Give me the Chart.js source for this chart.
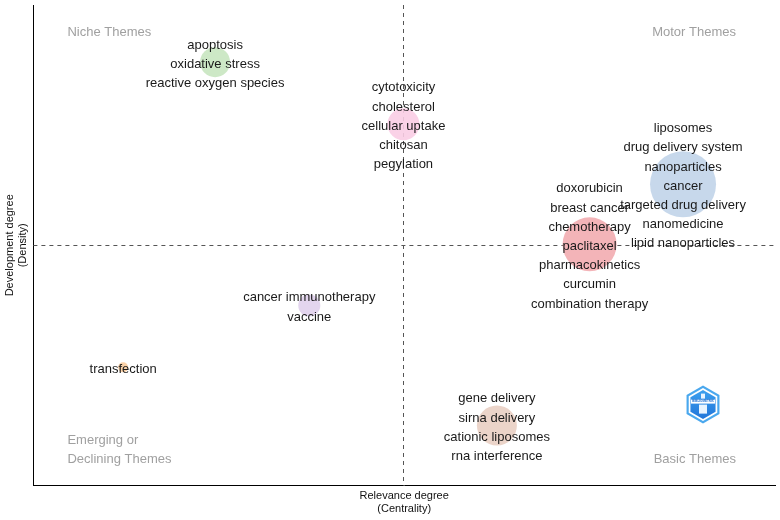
<!DOCTYPE html>
<html>
<head>
<meta charset="utf-8">
<script src="https://cdn.jsdelivr.net/npm/chart.js@4.4.1/dist/chart.umd.min.js"></script>
<style>
  html, body { margin: 0; padding: 0; background: #fff; }
  .wrap { width: 780px; height: 520px; position: relative; }
</style>
</head>
<body>
<div class="wrap"><canvas id="myChart"></canvas></div>
<script>
// cluster positions (centrality, density) and bubble size
const clusterX = [24.5, 49.9, 87.6, 75.0, 37.2, 12.1, 62.5];
const clusterY = [88.1, 75.2, 62.7, 50.2, 37.5, 24.6, 12.5];
const clusterSize = [15, 16, 33, 27, 11, 5, 20];
const clusterColors = [
  'rgba(200,230,192,0.9)',
  'rgba(250,205,228,0.9)',
  'rgba(196,214,234,0.95)',
  'rgba(242,176,180,0.95)',
  'rgba(224,208,236,0.9)',
  'rgba(250,205,160,0.9)',
  'rgba(234,210,198,0.95)'
];
const clusterWords = [
  ['apoptosis', 'oxidative stress', 'reactive oxygen species'],
  ['cytotoxicity', 'cholesterol', 'cellular uptake', 'chitosan', 'pegylation'],
  ['liposomes', 'drug delivery system', 'nanoparticles', 'cancer', 'targeted drug delivery', 'nanomedicine', 'lipid nanoparticles'],
  ['doxorubicin', 'breast cancer', 'chemotherapy', 'paclitaxel', 'pharmacokinetics', 'curcumin', 'combination therapy'],
  ['cancer immunotherapy', 'vaccine'],
  ['transfection'],
  ['gene delivery', 'sirna delivery', 'cationic liposomes', 'rna interference']
];
const meanX = 49.9;
const meanY = 50;

const FONT = '"Liberation Sans", Arial, sans-serif';

const mapPlugin = {
  id: 'mapPlugin',
  beforeDatasetsDraw(chart) {
    const c = chart.ctx;
    const a = chart.chartArea;
    const xs = chart.scales.x, ys = chart.scales.y;
    c.save();
    c.strokeStyle = '#555';
    c.lineWidth = 1;
    c.setLineDash([4, 4]);
    const px = Math.round(xs.getPixelForValue(meanX)) + 0.5;
    const py = Math.round(ys.getPixelForValue(meanY)) + 0.5;
    c.beginPath();
    c.moveTo(px, a.top); c.lineTo(px, a.bottom);
    c.moveTo(a.left, py); c.lineTo(a.right, py);
    c.stroke();
    c.setLineDash([]);

    // quadrant names
    c.fillStyle = '#a0a0a0';
    c.font = '13px ' + FONT;
    c.textBaseline = 'middle';
    c.textAlign = 'left';
    c.fillText('Niche Themes', a.left + 34, a.top + 27);
    c.fillText('Emerging or', a.left + 34, a.bottom - 45);
    c.fillText('Declining Themes', a.left + 34, a.bottom - 26);
    c.textAlign = 'right';
    c.fillText('Motor Themes', a.right - 39, a.top + 27);
    c.fillText('Basic Themes', a.right - 39, a.bottom - 26);
    c.restore();
  },
  afterDatasetsDraw(chart) {
    const c = chart.ctx;
    const a = chart.chartArea;
    const xs = chart.scales.x, ys = chart.scales.y;
    c.save();
    c.fillStyle = '#1a1a1a';
    c.font = '13px ' + FONT;
    c.textAlign = 'center';
    c.textBaseline = 'middle';
    const lh = 19.2;
    clusterWords.forEach((words, i) => {
      const cx = xs.getPixelForValue(clusterX[i]);
      const cy = ys.getPixelForValue(clusterY[i]);
      const n = words.length;
      words.forEach((w, j) => {
        c.fillText(w, cx, cy + (j - (n - 1) / 2) * lh + 2);
      });
    });

    // logo hexagon
    const lx = a.right - 72, ly = a.bottom - 81, r = 19;
    const hex = (rad) => {
      c.beginPath();
      for (let k = 0; k < 6; k++) {
        const ang = Math.PI / 2 + k * Math.PI / 3;
        const hx = lx + rad * Math.cos(ang), hy = ly - rad * Math.sin(ang);
        if (k === 0) c.moveTo(hx, hy); else c.lineTo(hx, hy);
      }
      c.closePath();
    };
    hex(r); c.fillStyle = '#4aa8ee'; c.fill();
    hex(r - 2.5); c.fillStyle = '#ffffff'; c.fill();
    const g = c.createLinearGradient(lx, ly - r, lx, ly + r);
    g.addColorStop(0, '#3fa6f2');
    g.addColorStop(1, '#1d6fd6');
    hex(r - 4.5); c.fillStyle = g; c.fill();
    c.fillStyle = '#fff';
    c.fillRect(lx - 12, ly - 5, 24, 4);
    c.fillStyle = '#1e6fd0';
    c.font = 'bold 3px ' + FONT;
    c.fillText('BIBLIOMETRIX', lx, ly - 3);
    c.fillStyle = '#e8f4ff';
    c.fillRect(lx - 2, ly - 11, 4, 5);
    c.fillRect(lx - 4, ly, 8, 9);
    c.restore();
  }
};

const ctx = document.getElementById('myChart');

let myChart = new Chart(ctx, {
  type: 'bubble',
  data: {
    datasets: [{
      data: clusterX.map((x, i) => ({ x: x, y: clusterY[i], r: clusterSize[i] })),
      backgroundColor: clusterColors,
      borderWidth: 0,
      hoverRadius: 0
    }]
  },
  options: {
    responsive: true,
    maintainAspectRatio: false,
    animation: false,
    events: [],
    layout: { autoPadding: false, padding: { top: 5, right: 5, left: -1, bottom: 0 } },
    plugins: {
      legend: { display: false },
      tooltip: { enabled: false }
    },
    scales: {
      x: {
        type: 'linear',
        min: 0,
        max: 100,
        grid: { display: false, drawTicks: false },
        border: { display: true, color: '#000', width: 1 },
        ticks: { display: false },
        title: {
          display: true,
          text: ['Relevance degree', '(Centrality)'],
          color: '#111',
          font: { size: 11, family: FONT },
          padding: { top: 4, bottom: 4 }
        }
      },
      y: {
        type: 'linear',
        min: 0,
        max: 100,
        grid: { display: false, drawTicks: false },
        border: { display: true, color: '#000', width: 1 },
        ticks: { display: false },
        title: {
          display: true,
          text: ['Development degree', '(Density)'],
          color: '#111',
          font: { size: 11, family: FONT },
          padding: { top: 4, bottom: 4 }
        }
      }
    }
  },
  plugins: [mapPlugin]
});
</script>
</body>
</html>
